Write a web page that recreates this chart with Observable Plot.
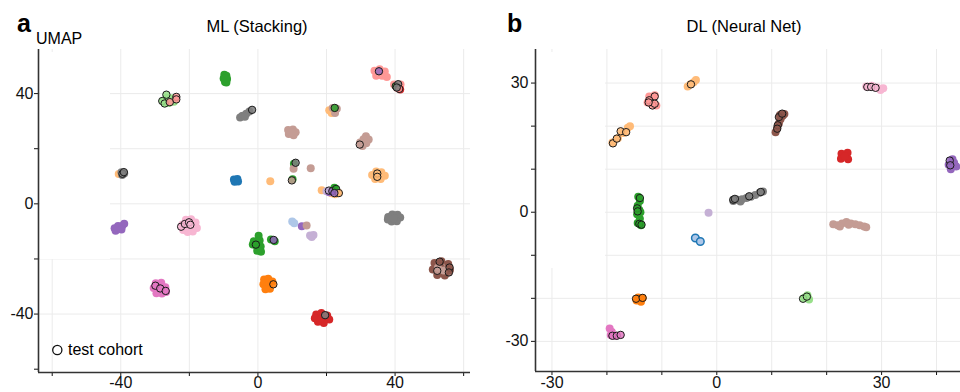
<!DOCTYPE html>
<html><head><meta charset="utf-8">
<script src="https://cdn.jsdelivr.net/npm/d3@7"></script>
<script src="https://cdn.jsdelivr.net/npm/@observablehq/plot@0.6"></script>
<style>
html,body{margin:0;padding:0;background:#fff;overflow:hidden;}
#wrap{position:relative;width:960px;height:392px;overflow:hidden;font-family:"Liberation Sans",Arial,sans-serif;color:#000;}
.panel{position:absolute;top:0;height:392px;}
.panel svg{max-width:none !important;}
.lbl{position:absolute;white-space:nowrap;line-height:1;}
.mask{position:absolute;background:#fff;}
</style>
</head><body>
<div id="wrap">
  <div class="panel" id="ml" style="left:0;width:480px"></div>
  <div class="panel" id="dl" style="left:480px;width:495px"></div>
  <div class="mask" style="left:40px;top:52px;width:70px;height:207px"></div>
  <div class="mask" style="left:537px;top:52px;width:68px;height:216px"></div>
  <div class="lbl" style="left:17px;top:11px;font-size:25px;font-weight:bold">a</div>
  <div class="lbl" style="left:36px;top:30.5px;font-size:16px">UMAP</div>
  <div class="lbl" style="left:157px;top:18px;width:200px;text-align:center;font-size:16.5px">ML (Stacking)</div>
  <div class="lbl" style="left:507px;top:11px;font-size:25px;font-weight:bold">b</div>
  <div class="lbl" style="left:644px;top:18px;width:200px;text-align:center;font-size:16.5px">DL (Neural Net)</div>
  <svg style="position:absolute;left:50px;top:343px" width="16" height="16"><circle cx="7.3" cy="7" r="4.6" fill="none" stroke="#111" stroke-width="1.3"/></svg>
  <div class="lbl" style="left:68px;top:342px;font-size:16px">test cohort</div>
</div>
<script>
const palette = {blue:"#1f77b4", lightblue:"#aec7e8", orange:"#ff7f0e", lightorange:"#ffbb78",
  green:"#2ca02c", lightgreen:"#98df8a", red:"#d62728", lightred:"#ff9896", purple:"#9467bd",
  lightpurple:"#c5b0d5", brown:"#8c564b", lightbrown:"#c49c94", pink:"#e377c2", lightpink:"#f7b6d2",
  gray:"#7f7f7f", none:"none"};

// ---------- ML (Stacking) ----------
const mlXDomain = [-64, 62];
const mlYDomain = [-61.2, 56];
const mlXTicks = [-60, -40, -20, 0, 20, 40, 60];
const mlXLabels = [-40, 0, 40];
const mlYTicks = [-60, -40, -20, 0, 20, 40];
const mlYLabels = [-40, 0, 40];
const mlXGrid = [-60, -40, -20, 0, 20, 40, 60];
const mlYGrid = [-40, -20, 0, 20, 40];

const mlPoints = [
  [-9.8,46.8,"green"],[-9.2,46.5,"green"],[-10.0,45.5,"green"],[-9.0,45.3,"green"],[-9.6,44.2,"green"],[-9.2,44.0,"green"],[-9.5,45.5,"green"],
  [-27.5,37.5,"lightgreen"],[-26.5,38.5,"lightgreen"],[-25,38.3,"lightgreen"],[-24.5,37,"lightgreen"],[-26,36.6,"lightgreen"],[-25.5,37.8,"lightgreen"],[-27,36.8,"lightgreen"],
  [-5.2,31.3,"gray"],[-4.3,32.0,"gray"],[-3.4,32.7,"gray"],[-2.5,33.5,"gray"],[-4.6,31.9,"gray"],[-3.8,31.6,"gray"],
  [8.8,26.8,"lightbrown"],[10.2,27.0,"lightbrown"],[11.0,26.0,"lightbrown"],[9.0,25.3,"lightbrown"],[10.4,24.9,"lightbrown"],[9.8,26.0,"lightbrown"],
  [-7.0,8.8,"blue"],[-6.0,9.0,"blue"],[-6.8,8.0,"blue"],[-5.8,8.1,"blue"],
  [3.6,8.2,"lightorange"],
  [-40.6,10.8,"lightorange"],[-39.8,11.5,"gray"],[-39.0,11.0,"gray"],[-39.6,10.5,"gray"],
  [34,48.3,"lightred"],[35.5,48.8,"lightred"],[37,48.0,"lightred"],[34.5,46.5,"lightred"],[36.2,46.5,"lightred"],[37.6,46.0,"lightred"],[35.5,47.3,"lightred"],
  [39.7,43.3,"lightred"],[41.6,43.3,"lightred"],[40.6,42.0,"lightred"],[41.5,41.5,"red"],
  [20.8,34.0,"lightorange"],[21.5,33.0,"lightorange"],[22.5,33.0,"lightbrown"],[21.8,34.8,"lightbrown"],[23.0,34.5,"lightbrown"],
  [31.5,24.5,"lightbrown"],[32.3,23.3,"lightbrown"],[30.8,23.4,"lightbrown"],[29.8,22.3,"lightbrown"],[31.6,22.0,"lightbrown"],[30.5,21.0,"lightbrown"],
  [10.5,14.5,"green"],[10.4,12.7,"lightbrown"],[15.4,12.9,"lightbrown"],[10.1,8.9,"green"],
  [33.3,10.5,"lightorange"],[34.5,11.7,"lightorange"],[36.0,11.5,"lightorange"],[37.0,10.2,"lightorange"],[35.8,9.0,"lightorange"],[34.2,9.0,"lightorange"],[34.8,10.3,"lightorange"],
  [18.6,4.9,"lightorange"],[20.0,4.6,"lightpurple"],[21.5,3.8,"lightorange"],[22.5,3.5,"lightorange"],[23.5,4.0,"lightorange"],[22.3,5.8,"green"],[20.8,4.2,"purple"],
  [-41.5,-9.8,"purple"],[-40.5,-9.0,"purple"],[-39.6,-8.0,"purple"],[-39.0,-7.2,"purple"],[-40.8,-8.0,"purple"],[-41.8,-8.9,"purple"],[-39.8,-9.3,"purple"],
  [-22,-7.5,"lightpink"],[-21,-5.8,"lightpink"],[-19.5,-5.6,"lightpink"],[-18.2,-6.8,"lightpink"],[-17.8,-8.8,"lightpink"],[-19.0,-10.0,"lightpink"],[-20.5,-10.2,"lightpink"],[-21.8,-9.5,"lightpink"],[-20.2,-8.1,"lightpink"],
  [0.2,-11.6,"green"],[-1.2,-13.6,"green"],[0.5,-13.3,"green"],[-0.5,-15.0,"green"],[0.8,-15.5,"green"],[-0.2,-17.0,"green"],[0.9,-17.4,"green"],[-1.5,-14.8,"green"],
  [3.8,-12.9,"green"],[4.9,-13.6,"green"],
  [1.8,-27.5,"orange"],[3.0,-27.2,"orange"],[4.2,-28.2,"orange"],[1.6,-29.2,"orange"],[2.8,-29.6,"orange"],[3.5,-30.8,"orange"],[2.2,-31.0,"orange"],
  [-29.8,-28.8,"pink"],[-28.2,-28.6,"pink"],[-30.4,-30.5,"pink"],[-27.0,-30.3,"pink"],[-29.0,-31.2,"pink"],[-28.0,-32.5,"pink"],[-26.8,-32.0,"pink"],[-29.6,-32.4,"pink"],
  [10.0,-6.4,"lightblue"],[10.6,-7.0,"lightblue"],[12.8,-8.1,"purple"],[14.2,-7.9,"lightbrown"],
  [15.2,-11.5,"lightpurple"],[16.2,-11.3,"lightpurple"],[15.7,-12.0,"lightpurple"],
  [38.0,-4.8,"gray"],[39.2,-3.9,"gray"],[40.7,-4.0,"gray"],[41.5,-5.0,"gray"],[40.5,-6.3,"gray"],[39.0,-6.4,"gray"],[37.9,-5.7,"gray"],[39.6,-5.2,"gray"],
  [51.5,-21.5,"brown"],[53.5,-20.8,"brown"],[55.5,-21.8,"brown"],[56.0,-24.0,"brown"],[54.5,-26.0,"brown"],[52.3,-25.8,"brown"],[51.0,-23.8,"brown"],[53.5,-23.5,"brown"],
  [52.5,-23.2,"lightbrown"],[54.2,-24.2,"lightbrown"],
  [17.0,-40.2,"red"],[18.5,-39.6,"red"],[20.2,-40.5,"red"],[20.8,-42.0,"red"],[19.2,-43.2,"red"],[17.5,-42.8,"red"],[16.6,-41.5,"red"],[18.6,-41.5,"red"]
];

const mlTest = [
  [-26.7,39.6,"lightgreen"],[-27.9,37.3,"lightgreen"],[-27.2,36.4,"lightgreen"],[-25.7,36.9,"lightred"],[-23.8,38.8,"lightred"],[-23.8,37.9,"lightred"],
  [-1.7,34.1,"gray"],
  [-39.5,10.9,"gray"],[-39.1,11.5,"gray"],
  [35.3,48.1,"purple"],
  [40.2,42.7,"green"],[40.9,43.4,"gray"],[41.2,41.7,"lightred"],[40.5,42.2,"gray"],
  [22.4,34.8,"green"],
  [29.7,21.5,"lightbrown"],
  [11.0,14.9,"gray"],
  [9.9,8.5,"lightbrown"],
  [34.8,11.0,"lightorange"],[34.8,9.8,"lightorange"],
  [20.7,4.8,"lightpurple"],[21.7,4.6,"purple"],[22.8,5.4,"green"],[23.6,3.9,"lightorange"],[22.3,3.9,"purple"],
  [-22.4,-8.3,"lightpink"],[-21.3,-7.3,"lightpink"],[-20.1,-6.7,"lightpink"],[-19.7,-7.6,"lightpink"],
  [-0.6,-14.8,"green"],
  [4.6,-13.1,"purple"],
  [4.5,-29.2,"orange"],
  [-29.9,-29.7,"pink"],[-28.5,-30.7,"pink"],[-26.9,-31.6,"pink"],
  [53.0,-21.0,"brown"],[55.9,-23.1,"brown"],[55.7,-24.9,"brown"],[52.3,-24.3,"lightbrown"],
  [19.6,-40.4,"gray"]
];

// ---------- DL (Neural Net) ----------
const dlXDomain = [-33, 46];
const dlYDomain = [-37, 37.8];
const dlXTicks = [-30, -20, -10, 0, 10, 20, 30, 40];
const dlXLabels = [-30, 0, 30];
const dlYTicks = [-30, -20, -10, 0, 10, 20, 30];
const dlYLabels = [-30, 0, 30];
const dlXGrid = [-30, -20, -10, 0, 10, 20, 30, 40];
const dlYGrid = [-30, -20, -10, 0, 10, 20, 30];

const dlPoints = [
  [-5.3,29.2,"lightorange"],[-4.8,29.7,"lightorange"],[-4.2,30.2,"lightorange"],[-3.8,30.7,"lightorange"],
  [-12.3,26.9,"lightred"],[-11.3,27.2,"lightred"],[-12.6,25.5,"lightred"],[-11.0,24.8,"lightred"],[-11.8,25.3,"lightred"],
  [-19.0,16.2,"lightorange"],[-18.0,17.2,"lightorange"],[-17.0,18.4,"lightorange"],[-16.2,19.6,"lightorange"],[-15.8,20.0,"lightorange"],
  [-14.3,3.6,"green"],[-14.0,2.6,"green"],[-14.4,1.5,"green"],[-14.1,0.5,"green"],[-14.5,-0.5,"green"],[-14.0,-1.5,"green"],[-14.4,-2.5,"green"],[-13.8,-3.0,"green"],[-13.9,0.0,"green"],
  [3.0,2.6,"gray"],[3.8,2.9,"gray"],[4.6,3.0,"gray"],[5.4,3.3,"gray"],[6.2,3.6,"gray"],[7.0,4.0,"gray"],[7.8,4.5,"gray"],[8.4,4.8,"gray"],[4.3,2.5,"gray"],
  [-1.5,-0.1,"lightpurple"],
  [-14.6,-20.5,"orange"],[-13.8,-20.8,"orange"],[-14.3,-19.8,"orange"],[-13.5,-19.9,"orange"],
  [-19.5,-27.0,"pink"],[-19.1,-27.8,"pink"],[-19.3,-28.5,"pink"],[-18.5,-28.7,"pink"],
  [27.2,29.2,"lightpink"],[28.2,29.4,"lightpink"],[29.2,29.0,"lightpink"],[30.3,28.8,"lightpink"],[29.8,28.4,"lightpink"],
  [10.7,18.6,"brown"],[11.0,19.6,"brown"],[11.3,20.6,"brown"],[11.6,21.6,"brown"],[12.0,22.4,"brown"],[12.3,22.8,"brown"],[11.5,22.6,"brown"],
  [22.7,13.6,"red"],[23.8,13.8,"red"],[22.6,12.4,"red"],[23.9,12.3,"red"],[23.3,13.0,"red"],
  [42.9,12.3,"purple"],[42.2,11.0,"purple"],[43.6,10.6,"purple"],[42.6,10.0,"purple"],[43.2,11.5,"purple"],
  [21.2,-2.8,"lightbrown"],[22.0,-3.0,"lightbrown"],[22.8,-2.6,"lightbrown"],[23.6,-2.3,"lightbrown"],[24.4,-2.6,"lightbrown"],[25.2,-2.8,"lightbrown"],[26.0,-3.0,"lightbrown"],[26.8,-3.3,"lightbrown"],[27.2,-3.5,"lightbrown"],[22.4,-3.3,"lightbrown"],[24.0,-2.9,"lightbrown"],
  [16.0,-19.8,"lightgreen"],[16.8,-20.3,"lightgreen"],[16.5,-19.3,"lightgreen"]
];

const dlRing = [[-3.9,-6.0,"lightblue"],[-3.0,-6.8,"lightblue"]];

const dlTest = [
  [-4.7,29.7,"lightorange"],
  [-11.3,26.9,"lightred"],[-12.3,26.0,"lightred"],[-11.7,24.8,"lightred"],[-11.3,25.2,"lightred"],[-12.4,25.5,"lightred"],
  [-18.9,16.0,"lightorange"],[-18.2,17.1,"lightorange"],[-17.5,18.8,"lightorange"],[-16.5,18.6,"lightorange"],
  [-14.0,3.3,"green"],[-14.5,0.9,"green"],[-14.4,0.2,"green"],[-14.1,-2.7,"green"],[-13.7,-2.9,"green"],
  [3.0,2.9,"gray"],[3.3,3.1,"gray"],[5.9,3.7,"gray"],[8.0,4.7,"gray"],
  [-14.7,-20.1,"orange"],[-13.5,-19.9,"orange"],
  [-19.0,-28.7,"pink"],[-18.2,-28.7,"pink"],[-17.5,-28.5,"pink"],
  [27.4,29.1,"lightpink"],[28.1,29.1,"lightpink"],[28.9,28.9,"lightpink"],
  [11.3,22.1,"brown"],[11.9,22.9,"brown"],[11.1,20.2,"brown"],[11.0,19.4,"brown"],
  [42.4,12.0,"purple"],[42.5,10.9,"purple"],
  [15.7,-20.1,"lightgreen"],[16.4,-19.6,"lightgreen"]
];

const toObj = a => a.map(([x, y, c]) => ({x, y, c}));
const fmt = labels => d => labels.includes(d) ? String(d) : "";

function panel({width, marginLeft, marginRight, marginBottom, xDomain, yDomain, xTicks, xLabels, yTicks, yLabels, xGrid, yGrid, pts, test, ring, yPad, xPad}) {
  const marks = [
    Plot.ruleX(xGrid, {stroke: "#ebebeb", strokeWidth: 1}),
    Plot.ruleY(yGrid, {stroke: "#ebebeb", strokeWidth: 1}),
    Plot.dot(toObj(pts), {x: "x", y: "y", r: 4, fill: d => palette[d.c], stroke: null})
  ];
  if (ring) marks.push(Plot.dot(toObj(ring), {x: "x", y: "y", r: 3.8, fill: d => palette[d.c], stroke: palette.blue, strokeWidth: 1.5}));
  marks.push(
    Plot.dot(toObj(test), {x: "x", y: "y", r: 3.7, fill: d => palette[d.c], fillOpacity: 0.85, stroke: "#1a1a1a", strokeWidth: 1}),
    Plot.ruleX([xDomain[0]], {stroke: "#333", strokeWidth: 1.6}),
    Plot.ruleY([yDomain[0]], {stroke: "#333", strokeWidth: 1.6})
  );
  return Plot.plot({
    width, height: 392, marginLeft, marginRight, marginTop: 49, marginBottom,
    style: {fontFamily: "Liberation Sans, Arial, sans-serif", fontSize: "16px", color: "#111", background: "white", overflow: "visible", maxWidth: "none"},
    color: {type: "identity"},
    x: {domain: xDomain, ticks: xTicks, tickFormat: fmt(xLabels), tickSize: 4, tickPadding: xPad, label: null},
    y: {domain: yDomain, ticks: yTicks, tickFormat: fmt(yLabels), tickSize: 4, tickPadding: yPad, label: null},
    marks
  });
}

document.getElementById("ml").append(panel({
  width: 480, marginLeft: 38, marginRight: 10, marginBottom: 20,
  xDomain: mlXDomain, yDomain: mlYDomain, xTicks: mlXTicks, xLabels: mlXLabels,
  yTicks: mlYTicks, yLabels: mlYLabels, xGrid: mlXGrid, yGrid: mlYGrid,
  pts: mlPoints, test: mlTest, ring: null, yPad: 1, xPad: 0
}));
document.getElementById("dl").append(panel({
  width: 495, marginLeft: 55, marginRight: 6, marginBottom: 21,
  xDomain: dlXDomain, yDomain: dlYDomain, xTicks: dlXTicks, xLabels: dlXLabels,
  yTicks: dlYTicks, yLabels: dlYLabels, xGrid: dlXGrid, yGrid: dlYGrid,
  pts: dlPoints, test: dlTest, ring: dlRing, yPad: 3, xPad: 1
}));
</script>
</body></html>
